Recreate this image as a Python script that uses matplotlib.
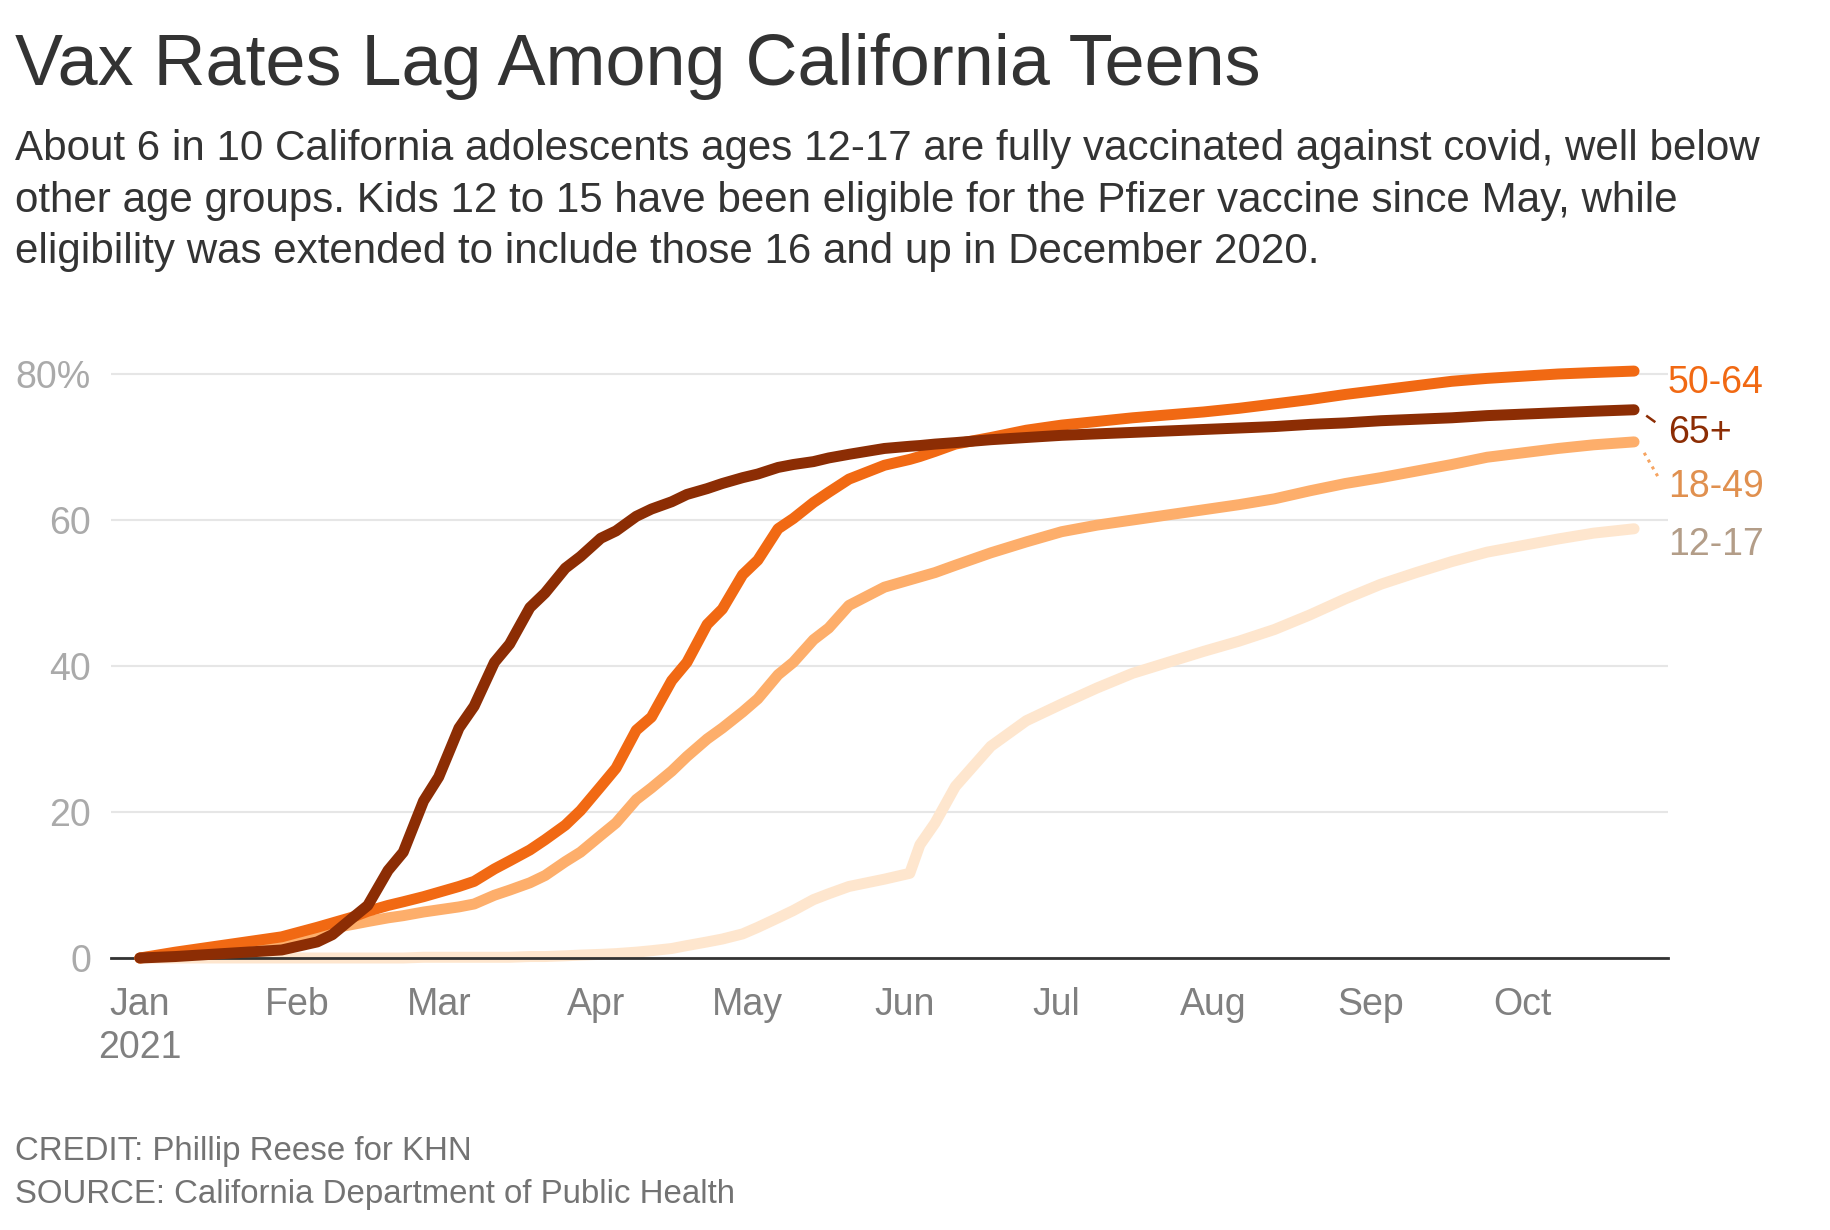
import matplotlib
matplotlib.use('Agg')
import matplotlib.pyplot as plt
import matplotlib.dates as mdates
import datetime as dt

plt.rcParams['font.family'] = ['Liberation Sans', 'DejaVu Sans']

# ---------------- data ----------------
dates = ["2021-01-01", "2021-01-08", "2021-01-15", "2021-01-22", "2021-01-29",
         "2021-02-05", "2021-02-08", "2021-02-12", "2021-02-15", "2021-02-19",
         "2021-02-22", "2021-02-26", "2021-03-01", "2021-03-05", "2021-03-08",
         "2021-03-12", "2021-03-15", "2021-03-19", "2021-03-22", "2021-03-26",
         "2021-03-29", "2021-04-02", "2021-04-05", "2021-04-09", "2021-04-12",
         "2021-04-16", "2021-04-19", "2021-04-23", "2021-04-26", "2021-04-30",
         "2021-05-03", "2021-05-07", "2021-05-10", "2021-05-14", "2021-05-17",
         "2021-05-21", "2021-05-28", "2021-06-02", "2021-06-04", "2021-06-07",
         "2021-06-11", "2021-06-18", "2021-06-25", "2021-07-02", "2021-07-09",
         "2021-07-16", "2021-07-23", "2021-07-30", "2021-08-06", "2021-08-13",
         "2021-08-20", "2021-08-27", "2021-09-03", "2021-09-10", "2021-09-17",
         "2021-09-24", "2021-10-01", "2021-10-08", "2021-10-15", "2021-10-23"]

age_65_plus = [0, 0.2, 0.5, 0.8, 1.1, 2.2, 3.2, 5.5, 7.2, 12.0,
               14.5, 21.5, 24.8, 31.5, 34.5, 40.5, 43.0, 48.0, 50.0, 53.4,
               55.0, 57.5, 58.5, 60.5, 61.5, 62.5, 63.5, 64.3, 65.0, 65.8,
               66.3, 67.2, 67.6, 68.0, 68.5, 69.0, 69.8, 70.1, 70.2, 70.4,
               70.6, 71.0, 71.3, 71.6, 71.8, 72.0, 72.2, 72.4, 72.6, 72.8,
               73.1, 73.3, 73.6, 73.8, 74.0, 74.3, 74.5, 74.7, 74.9, 75.1]

age_50_64 = [0, 0.8, 1.5, 2.2, 2.9, 4.2, 4.8, 5.6, 6.4, 7.2,
             7.7, 8.4, 9.0, 9.8, 10.5, 12.2, 13.3, 14.8, 16.2, 18.2,
             20.2, 23.5, 26.0, 31.2, 33.0, 38.0, 40.5, 45.7, 47.8, 52.5,
             54.5, 58.8, 60.2, 62.4, 63.8, 65.6, 67.5, 68.3, 68.7, 69.4,
             70.4, 71.3, 72.3, 73.0, 73.5, 74.0, 74.4, 74.8, 75.3, 75.9,
             76.5, 77.2, 77.8, 78.4, 79.0, 79.4, 79.7, 80.0, 80.2, 80.4]

age_18_49 = [0, 0.5, 1.0, 1.7, 2.4, 3.6, 4.1, 4.6, 5.0, 5.5,
             5.8, 6.3, 6.6, 7.0, 7.4, 8.6, 9.3, 10.3, 11.3, 13.2,
             14.5, 16.8, 18.5, 21.7, 23.3, 25.6, 27.6, 30.0, 31.5, 33.7,
             35.5, 38.8, 40.5, 43.6, 45.2, 48.3, 50.8, 51.8, 52.2, 52.8,
             53.8, 55.5, 57.0, 58.4, 59.3, 60.0, 60.7, 61.4, 62.1, 62.9,
             64.0, 65.0, 65.8, 66.7, 67.6, 68.6, 69.2, 69.8, 70.3, 70.7]

age_12_17 = [0, 0, 0, 0, 0, 0, 0, 0, 0, 0,
             0, 0.1, 0.1, 0.1, 0.1, 0.1, 0.1, 0.2, 0.2, 0.3,
             0.4, 0.5, 0.6, 0.8, 1.0, 1.3, 1.7, 2.2, 2.6, 3.3,
             4.2, 5.5, 6.5, 8.0, 8.8, 9.8, 10.8, 11.6, 15.5, 18.5,
             23.5, 29.0, 32.5, 34.8, 37.0, 39.0, 40.5, 42.0, 43.4, 45.0,
             47.0, 49.2, 51.2, 52.8, 54.3, 55.6, 56.5, 57.4, 58.2, 58.8]

series_names = ["12-17", "18-49", "50-64", "65+"]
series_values = [age_12_17, age_18_49, age_50_64, age_65_plus]
line_colors = ["#fee6ce", "#fdae6b", "#f16913", "#8c2d04"]
label_colors = ["#b39d88", "#e0904f", "#f16913", "#8c2d04"]
label_centers = [57.1, 65.0, 79.2, 72.4]

month_ticks = ["2021-01-01", "2021-02-01", "2021-03-01", "2021-04-01", "2021-05-01",
               "2021-06-01", "2021-07-01", "2021-08-01", "2021-09-01", "2021-10-01"]
month_labels = ["Jan\n2021", "Feb", "Mar", "Apr", "May", "Jun", "Jul", "Aug", "Sep", "Oct"]
y_ticks = [0, 20, 40, 60, 80]
y_labels = ["0", "20", "40", "60", "80%"]

title = "Vax Rates Lag Among California Teens"
subtitle_lines = [
    "About 6 in 10 California adolescents ages 12-17 are fully vaccinated against covid, well below",
    "other age groups. Kids 12 to 15 have been eligible for the Pfizer vaccine since May, while",
    "eligibility was extended to include those 16 and up in December 2020.",
]
credit_lines = ["CREDIT: Phillip Reese for KHN",
                "SOURCE: California Department of Public Health"]

# ---------------- figure ----------------
W, H = 1830, 1230
fig = plt.figure(figsize=(W / 100, H / 100), dpi=100)
fig.patch.set_facecolor("white")

ax_left, ax_right = 111, 1668
y0_px, ytop_px = 958, 359.4
ax = fig.add_axes([ax_left / W, 1 - y0_px / H, (ax_right - ax_left) / W, (y0_px - ytop_px) / H])

def to_num(s):
    return mdates.date2num(dt.datetime.strptime(s, "%Y-%m-%d"))

x = [to_num(d) for d in dates]
base = to_num("2021-01-01")
ax.set_xlim(base - 5.7, base + 301.7)
ax.set_ylim(0, 82)

for sp in ax.spines.values():
    sp.set_visible(False)

ax.set_yticks(y_ticks)
ax.set_yticklabels(y_labels)
ax.tick_params(axis="y", length=0, pad=14.4, labelsize=27, labelcolor="#aaaaaa")
for t in ax.get_yticklabels():
    t.set_verticalalignment("center_baseline")
ax.yaxis.grid(True, color="#e6e6e6", linewidth=1.5)
ax.set_axisbelow(True)

ax.set_xticks([to_num(m) for m in month_ticks])
ax.set_xticklabels(month_labels, linespacing=1.25)
ax.tick_params(axis="x", length=0, pad=21, labelsize=27, labelcolor="#808080")

# lines
z = {"12-17": 2, "18-49": 4, "50-64": 5, "65+": 6}
for name, vals, col in zip(series_names, series_values, line_colors):
    ax.plot(x, vals, color=col, linewidth=7.9, solid_capstyle="round",
            solid_joinstyle="round", zorder=z[name], clip_on=False)

ax.axhline(0, color="#333333", linewidth=2.0, zorder=3, clip_on=False)

# end labels
lab_x = base + 301.7
for name, col, yc in zip(series_names, label_colors, label_centers):
    ax.text(lab_x, yc - 1.84, name, color=col, fontsize=27, ha="left",
            va="baseline", clip_on=False)

# leader lines
ax.plot([base + 297.6, base + 299.0], [74.2, 73.5], color="#8c2d04",
        linewidth=1.8, zorder=6, clip_on=False)
ax.plot([base + 297.0, base + 300.0], [69.2, 65.6], color="#f6a461",
        linewidth=2.2, linestyle=(0, (1.0, 1.6)), zorder=6, clip_on=False)

# title, subtitle, credits
fig.text(15 / W, 1 - 85 / H, title, fontsize=51.8, color="#333333", va="baseline", ha="left")
for yb, line in zip([160, 212, 263], subtitle_lines):
    fig.text(15 / W, 1 - yb / H, line, fontsize=30.3, color="#333333", va="baseline", ha="left")
for yb, line in zip([1160, 1203], credit_lines):
    fig.text(15 / W, 1 - yb / H, line, fontsize=23.8, color="#737373", va="baseline", ha="left")

fig.savefig("out.png", dpi=100, facecolor="white")
